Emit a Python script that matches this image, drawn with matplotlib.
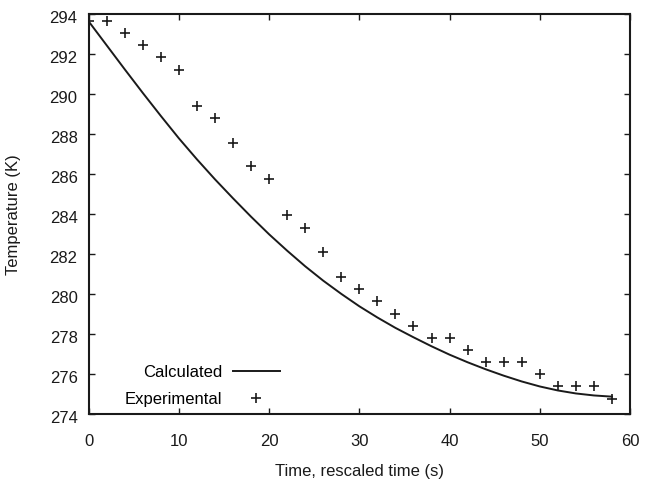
import numpy as np
import matplotlib
matplotlib.use('Agg')
import matplotlib.pyplot as plt
import matplotlib.transforms as mtransforms

plt.rcParams['font.family'] = 'Liberation Sans'

# experimental readings
t_exp = [0, 2, 4, 6, 8, 10, 12, 14, 16, 18, 20, 22, 24, 26, 28,
         30, 32, 34, 36, 38, 40, 42, 44, 46, 48, 50, 52, 54, 56, 58]
T_exp = [293.65, 293.65, 293.05, 292.45, 291.85, 291.2, 289.4, 288.8, 287.55, 286.4,
         285.75, 283.95, 283.3, 282.1, 280.85, 280.25, 279.65, 279.0, 278.4, 277.8,
         277.8, 277.2, 276.6, 276.6, 276.6, 276.0, 275.4, 275.4, 275.4, 274.75]

# calculated curve
t_calc = [0, 2, 4, 6, 8, 10, 12, 14, 16, 18, 20, 22, 24, 26, 28,
          30, 32, 34, 36, 38, 40, 42, 44, 46, 48, 50, 52, 54, 56, 58]
T_calc = [293.65, 292.45, 291.25, 290.07, 288.92, 287.8, 286.75, 285.75, 284.8, 283.88,
          283.0, 282.18, 281.4, 280.68, 280.02, 279.4, 278.84, 278.32, 277.85, 277.4,
          276.98, 276.6, 276.25, 275.93, 275.64, 275.39, 275.19, 275.04, 274.94, 274.88]

xticks = [0, 10, 20, 30, 40, 50, 60]
yticks = [274, 276, 278, 280, 282, 284, 286, 288, 290, 292, 294]

fig = plt.figure(figsize=(6.45, 4.8), dpi=100)
ax = fig.add_axes([0.1375, 0.137, 0.8392, 0.833])

ax.plot(t_calc, T_calc, '-', color='#1a1a1a', lw=1.4, label='Calculated')
ax.plot(t_exp, T_exp, '+', color='#1a1a1a', ms=7, mew=1.2, label='Experimental')

ax.set_xlim(0, 60)
ax.set_ylim(274, 294)
ax.set_xticks(xticks)
ax.set_yticks(yticks)
ax.tick_params(direction='in', top=True, right=True, length=4, width=1,
               labelsize=12, colors='#1a1a1a')
ax.tick_params(axis='x', pad=14)
ax.tick_params(axis='y', pad=8)
for sp in ax.spines.values():
    sp.set_linewidth(1.5)
    sp.set_color('#1a1a1a')

off = mtransforms.ScaledTranslation(0, -3/100, fig.dpi_scale_trans)
for lab in ax.get_yticklabels():
    lab.set_transform(lab.get_transform() + off)

ax.set_xlabel('Time, rescaled time (s)', fontsize=12, color='#1a1a1a')
ax.set_ylabel('Temperature (K)', fontsize=12, color='#1a1a1a')
ax.xaxis.set_label_coords(0.5, -0.125)
ax.yaxis.set_label_coords(-0.125, 0.5)

ax.legend(loc='lower right', bbox_to_anchor=(0.353, 0.018), frameon=False,
          markerfirst=False, fontsize=12, handlelength=2.8, handletextpad=0.66,
          labelspacing=0.75, borderpad=0, borderaxespad=0)

fig.savefig('out.png', dpi=100)
